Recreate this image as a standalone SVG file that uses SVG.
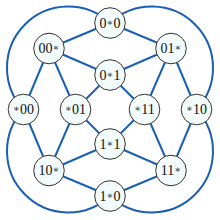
<svg xmlns="http://www.w3.org/2000/svg" width="220" height="220" viewBox="0 0 220 220">
<style>
.e{fill:none;stroke:#1a5fb4;stroke-width:2}
.n circle{fill:#f3fbfb;stroke:#333;stroke-width:1}
.n text{font-family:"Liberation Serif","DejaVu Serif",serif;font-size:14px;text-anchor:middle;fill:#111}
.s{font-size:10px;fill:#444;baseline-shift:2px}
</style>
<rect width="220" height="220" fill="#fff"/>
<g id="connectors">
<path class="e" d="M110,23 A61.2,61.2 0 0 0 23.5,109.5"/>
<path class="e" d="M110,23 A61.2,61.2 0 0 1 196.5,109.5"/>
<path class="e" d="M23.5,109.5 A61.2,61.2 0 0 0 110,196"/>
<path class="e" d="M196.5,109.5 A61.2,61.2 0 0 1 110,196"/>
<path class="e" d="M110,23 L49,48.5 M110,23 L171,48.5 M49,48.5 L110,75 M171,48.5 L110,75 M49,48.5 L23.5,109.5 M49,48.5 L75.5,109.5 M171,48.5 L144.5,109.5 M171,48.5 L196.5,109.5 M110,75 L75.5,109.5 M110,75 L144.5,109.5 M23.5,109.5 L49,170.5 M75.5,109.5 L49,170.5 M144.5,109.5 L171,170.5 M196.5,109.5 L171,170.5 M49,170.5 L110,144 M171,170.5 L110,144 M49,170.5 L110,196 M171,170.5 L110,196 M75.5,109.5 L110,144 M144.5,109.5 L110,144"/>
</g>
<g id="n0s0" class="n"><circle cx="110" cy="23" r="15.3"/><text x="110" y="27.5">0<tspan class="s">∗</tspan>0</text></g>
<g id="n00s" class="n"><circle cx="49" cy="48.5" r="15.3"/><text x="49" y="53">00<tspan class="s">∗</tspan></text></g>
<g id="n01s" class="n"><circle cx="171" cy="48.5" r="15.3"/><text x="171" y="53">01<tspan class="s">∗</tspan></text></g>
<g id="n0s1" class="n"><circle cx="110" cy="75" r="15.3"/><text x="110" y="79.5">0<tspan class="s">∗</tspan>1</text></g>
<g id="ns00" class="n"><circle cx="23.5" cy="109.5" r="15.3"/><text x="23.5" y="114"><tspan class="s">∗</tspan>00</text></g>
<g id="ns01" class="n"><circle cx="75.5" cy="109.5" r="15.3"/><text x="75.5" y="114"><tspan class="s">∗</tspan>01</text></g>
<g id="ns11" class="n"><circle cx="144.5" cy="109.5" r="15.3"/><text x="144.5" y="114"><tspan class="s">∗</tspan>11</text></g>
<g id="ns10" class="n"><circle cx="196.5" cy="109.5" r="15.3"/><text x="196.5" y="114"><tspan class="s">∗</tspan>10</text></g>
<g id="n1s1" class="n"><circle cx="110" cy="144" r="15.3"/><text x="110" y="148.5">1<tspan class="s">∗</tspan>1</text></g>
<g id="n10s" class="n"><circle cx="49" cy="170.5" r="15.3"/><text x="49" y="175">10<tspan class="s">∗</tspan></text></g>
<g id="n11s" class="n"><circle cx="171" cy="170.5" r="15.3"/><text x="171" y="175">11<tspan class="s">∗</tspan></text></g>
<g id="n1s0" class="n"><circle cx="110" cy="196" r="15.3"/><text x="110" y="200.5">1<tspan class="s">∗</tspan>0</text></g>
</svg>
